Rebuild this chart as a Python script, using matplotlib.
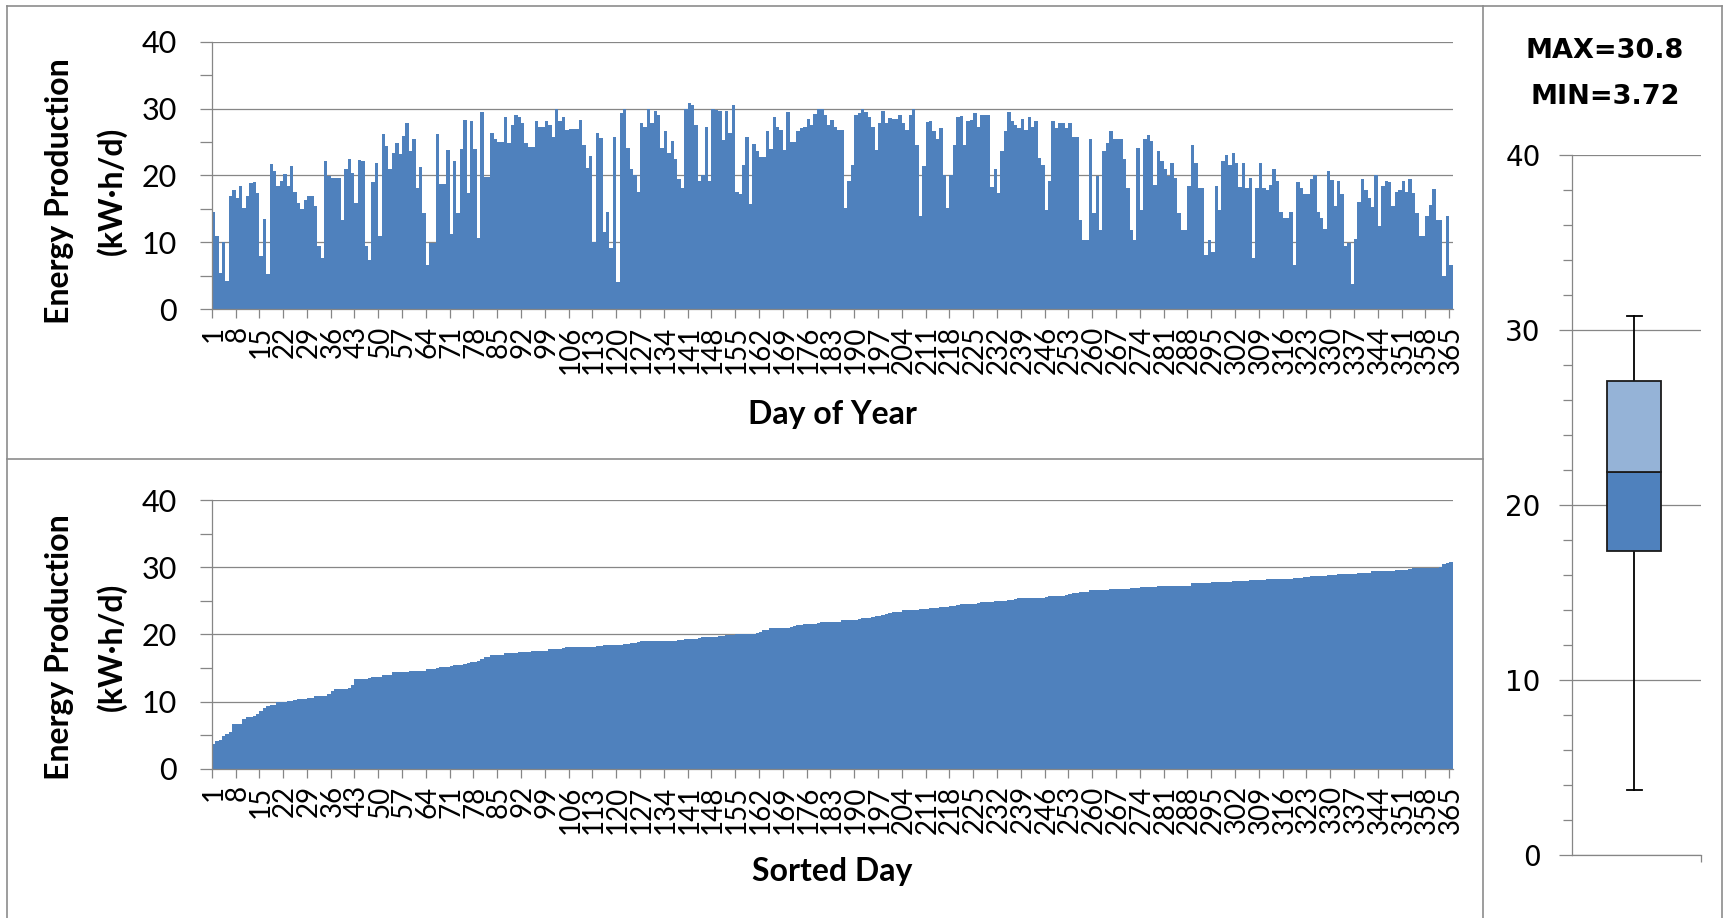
import numpy as np
import matplotlib.pyplot as plt
from matplotlib.lines import Line2D
from matplotlib.ticker import MultipleLocator

plt.rcParams['font.family'] = ['Lato', 'DejaVu Sans']

# daily energy production (kW.h/d), one list per month
jan = [14.5, 10.9, 5.4, 10.1, 4.2, 16.9, 17.8, 16.6, 18.5, 15.2,
       16.9, 18.9, 19.0, 17.4, 7.9, 13.5, 5.2, 21.7, 20.7, 18.4,
       19.2, 20.2, 18.4, 21.4, 17.6, 15.9, 15.0, 16.4, 16.9, 17.0, 15.5]
feb = [9.5, 7.7, 22.1, 19.9, 19.6, 19.6, 19.6, 13.3, 20.9, 22.5,
       20.4, 15.9, 22.3, 22.1, 9.4, 7.4, 19.0, 21.9, 10.9, 26.2,
       24.4, 21.0, 23.4, 24.9, 23.2, 25.9, 27.9, 23.7]
mar = [25.4, 18.2, 21.2, 14.4, 6.6, 9.9, 9.9, 26.2, 18.8, 18.8,
       23.8, 11.2, 22.1, 14.4, 23.9, 28.3, 17.4, 28.2, 23.9, 10.6,
       29.5, 19.7, 19.7, 26.4, 25.5, 25.0, 25.0, 28.8, 24.8, 27.6, 29.0]
apr = [28.8, 27.9, 24.8, 24.2, 24.3, 28.2, 27.3, 27.3, 28.2, 27.6,
       25.8, 29.9, 28.1, 28.7, 26.8, 26.9, 26.9, 26.9, 28.3, 24.6,
       21.1, 22.9, 10.1, 26.3, 25.6, 11.6, 14.6, 9.1, 25.8, 4.1]
may = [29.4, 29.9, 24.1, 20.9, 20.1, 17.5, 27.8, 27.2, 29.9, 27.8,
       29.6, 29.0, 24.1, 26.6, 23.4, 25.1, 22.4, 19.5, 18.1, 30.0,
       30.8, 30.6, 27.6, 19.1, 20.1, 27.3, 19.2, 29.9, 29.8, 29.6, 25.3]
jun = [29.6, 26.3, 30.5, 17.6, 17.3, 21.6, 25.8, 15.8, 24.7, 23.6,
       22.8, 22.8, 26.6, 23.9, 28.7, 27.3, 26.8, 23.8, 29.5, 25.0,
       25.0, 26.6, 27.1, 27.3, 28.4, 27.6, 29.2, 29.9, 29.9, 29.1]
jul = [27.6, 28.3, 27.3, 26.8, 26.8, 15.1, 19.1, 21.5, 29.0, 29.4,
       29.9, 29.5, 28.7, 27.3, 23.8, 27.9, 29.6, 27.8, 28.6, 28.5,
       28.4, 29.0, 27.8, 26.8, 29.0, 29.9, 24.6, 13.9, 21.4, 28.0, 28.1]
aug = [26.6, 25.5, 27.1, 20.1, 15.1, 20.1, 24.6, 28.7, 28.9, 24.6,
       28.1, 28.3, 29.4, 27.3, 29.1, 29.1, 29.0, 18.3, 20.9, 17.4,
       23.6, 26.6, 29.5, 28.1, 27.6, 27.1, 28.4, 26.8, 28.7, 27.3, 28.2]
sep = [22.6, 21.6, 14.9, 19.1, 28.1, 27.1, 27.8, 27.9, 27.1, 27.8,
       25.8, 25.8, 13.4, 10.4, 10.4, 25.4, 14.4, 19.9, 11.9, 23.6,
       24.9, 26.6, 25.4, 25.4, 25.4, 22.4, 18.1, 11.9, 10.4, 24.1]
octo = [14.9, 25.4, 26.1, 25.1, 18.6, 23.6, 22.1, 20.9, 19.9, 21.9,
        19.6, 14.4, 11.9, 11.9, 18.4, 24.6, 21.8, 18.1, 18.1, 8.1,
        10.3, 8.6, 18.4, 14.9, 22.2, 23.1, 21.6, 23.4, 21.8, 18.3, 21.8]
nov = [18.1, 19.6, 7.7, 18.2, 21.9, 18.2, 17.8, 18.6, 20.9, 19.1,
       14.6, 13.6, 13.6, 14.6, 6.6, 19.0, 18.1, 17.3, 17.3, 19.4,
       20.0, 14.5, 13.6, 12.0, 20.6, 19.3, 15.5, 19.1, 17.3, 9.5]
dec = [9.9, 3.72, 10.5, 16.1, 19.4, 17.9, 16.6, 15.3, 20.0, 12.4,
       18.4, 19.1, 19.0, 15.4, 17.6, 17.8, 19.1, 17.5, 19.4, 17.4,
       14.4, 10.9, 10.9, 13.9, 15.6, 18.0, 13.3, 13.3, 4.9, 13.9, 6.6]

daily = np.array(jan + feb + mar + apr + may + jun + jul + aug + sep + octo + nov + dec)
days = np.arange(1, len(daily) + 1)
sorted_daily = np.sort(daily)
label_days = list(range(1, 366, 7))

vmin, vmax = daily.min(), daily.max()
q1, med, q3 = np.percentile(daily, [25, 50, 75])

BLUE = '#4F81BD'
LIGHT = '#95B3D7'
GRID = '#868686'

fig = plt.figure(figsize=(17.24, 9.18), dpi=100)


def bar_panel(ax, values, xlabel, xlab_y, ylab_y):
    ax.bar(days, values, width=1.0, color=BLUE, linewidth=0)
    ax.set_xlim(0.5, 365.5)
    ax.set_ylim(0, 40)
    ax.set_yticks([0, 10, 20, 30, 40])
    ax.yaxis.set_minor_locator(MultipleLocator(5))
    ax.grid(axis='y', which='major', color=GRID, linewidth=0.9)
    ax.set_axisbelow(True)
    for s in ['top', 'right']:
        ax.spines[s].set_visible(False)
    for s in ['left', 'bottom']:
        ax.spines[s].set_color(GRID)
        ax.spines[s].set_linewidth(0.9)
    ax.tick_params(axis='y', which='both', direction='out', length=9,
                   color=GRID, width=0.9, labelsize=22, pad=16)
    # tick marks between categories, labels on the categories
    ax.set_xticks(np.arange(0.5, 365, 7))
    ax.set_xticklabels([])
    ax.set_xticks(label_days, [str(d) for d in label_days], minor=True)
    ax.tick_params(axis='x', which='major', direction='out', length=6.5,
                   color=GRID, width=0.9)
    ax.tick_params(axis='x', which='minor', length=0, labelsize=20,
                   labelrotation=90, pad=12)
    ax.set_xlabel(xlabel, fontsize=23, fontweight='bold')
    ax.xaxis.set_label_coords(0.5, xlab_y)
    fig.text(60 / 1724, 1 - ylab_y / 918, 'Energy Production', rotation=90,
             fontsize=23, fontweight='bold', ha='center', va='center')
    fig.text(111 / 1724, 1 - ylab_y / 918, '(kW·h/d)', rotation=90,
             fontsize=23, fontweight='bold', ha='center', va='center')


ax1 = fig.add_axes([0.1228, 0.6631, 0.7198, 0.2915])
bar_panel(ax1, daily, 'Day of Year', -0.34, 191)

ax2 = fig.add_axes([0.1228, 0.1627, 0.7198, 0.2923])
bar_panel(ax2, sorted_daily, 'Sorted Day', -0.33, 647)

# box plot panel
ax3 = fig.add_axes([0.9118, 0.0682, 0.0748, 0.763])
xc, bw, cap = 0.484, 0.418, 0.058
ax3.bar(xc, med - q1, bottom=q1, width=bw, color=BLUE,
        edgecolor='#1b1b1b', linewidth=1.3, zorder=3)
ax3.bar(xc, q3 - med, bottom=med, width=bw, color=LIGHT,
        edgecolor='#1b1b1b', linewidth=1.3, zorder=3)
ax3.plot([xc, xc], [q3, vmax], color='black', lw=1.3, zorder=2)
ax3.plot([xc, xc], [vmin, q1], color='black', lw=1.3, zorder=2)
ax3.plot([xc - cap, xc + cap], [vmax, vmax], color='black', lw=1.3, zorder=2)
ax3.plot([xc - cap, xc + cap], [vmin, vmin], color='black', lw=1.3, zorder=2)
ax3.set_xlim(0, 1)
ax3.set_ylim(0, 40)
ax3.set_yticks([0, 10, 20, 30, 40])
ax3.yaxis.set_minor_locator(MultipleLocator(2))
ax3.grid(axis='y', which='major', color=GRID, linewidth=0.9)
ax3.set_axisbelow(True)
for s in ['top', 'right']:
    ax3.spines[s].set_visible(False)
for s in ['left', 'bottom']:
    ax3.spines[s].set_color(GRID)
    ax3.spines[s].set_linewidth(0.9)
ax3.tick_params(axis='y', which='major', direction='out', length=9.4,
                color=GRID, width=0.9, labelsize=20, pad=13)
ax3.tick_params(axis='y', which='minor', direction='out', length=6.5,
                color=GRID, width=0.9)
for lab in ax3.get_yticklabels():
    lab.set_family('DejaVu Sans')
ax3.set_xticks([1.0])
ax3.set_xticklabels([])
ax3.tick_params(axis='x', direction='out', length=5, color=GRID, width=0.9)

fig.text(1605 / 1724, 1 - 51 / 918, f'MAX={vmax:g}', fontsize=19.5,
         fontweight='bold', family='DejaVu Sans', ha='center', va='center')
fig.text(1605 / 1724, 1 - 97 / 918, f'MIN={vmin:g}', fontsize=19.5,
         fontweight='bold', family='DejaVu Sans', ha='center', va='center')

# chart area borders
border = dict(transform=fig.transFigure, color='#8c8c8c', lw=1.2)
x0, x1, xm = 7 / 1724, 1722 / 1724, 1483 / 1724
y0, y1, ym = 0.0, 1 - 6 / 918, 0.5
for xs, ys in [([x0, x1], [y1, y1]), ([x0, x0], [y0, y1]),
               ([x1, x1], [y0, y1]), ([xm, xm], [y0, y1]),
               ([x0, xm], [ym, ym])]:
    fig.add_artist(Line2D(xs, ys, **border))

fig.savefig('out.png', dpi=100)
